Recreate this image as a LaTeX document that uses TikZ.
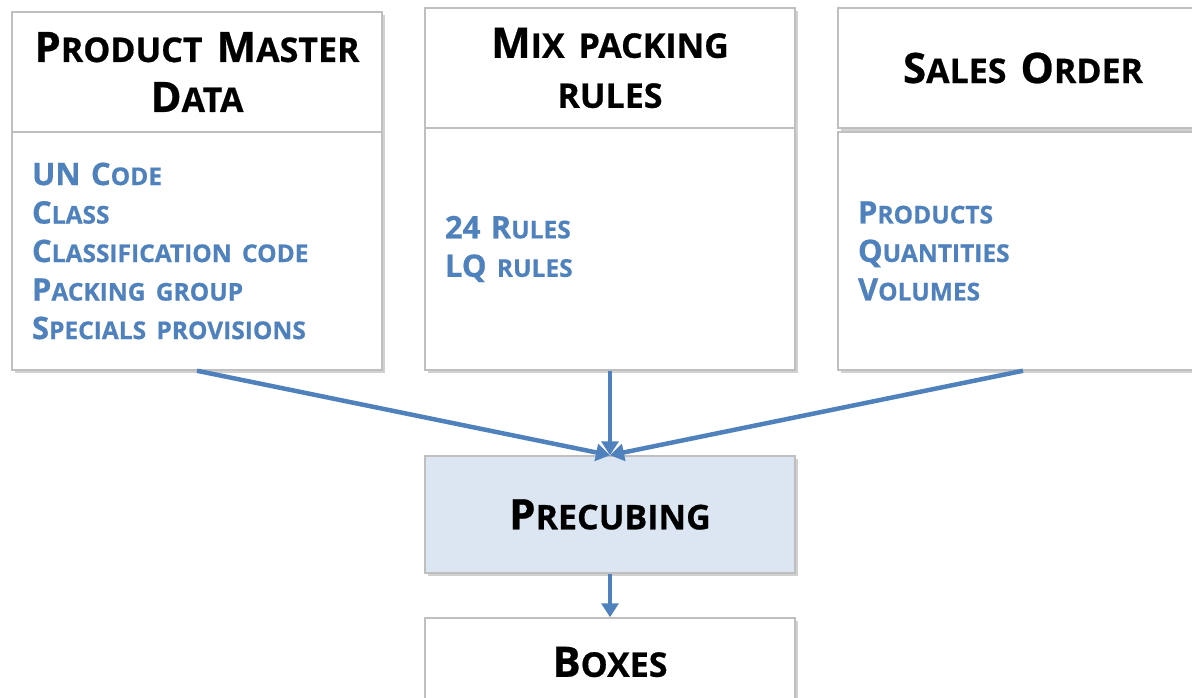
\documentclass[tikz,border=0pt]{standalone}
\usepackage{fontspec}
\setmainfont{Open Sans}[BoldFeatures={FakeBold=0.6}]
\usetikzlibrary{arrows.meta,shadows}
\definecolor{acc}{HTML}{4F81BD}
\definecolor{bord}{HTML}{BFBFBF}
\definecolor{pfill}{HTML}{DCE6F2}
\newcommand\hfont{\fontsize{42}{50}\selectfont\bfseries}
\newcommand\bfont{\fontsize{31}{38.5}\selectfont\bfseries}
\newcommand\hsc[1]{{\fontsize{34}{50}\selectfont #1}}
\newcommand\bsc[1]{{\fontsize{24.5}{38.5}\selectfont #1}}
\tikzset{
  shad/.style={drop shadow={shadow xshift=3pt, shadow yshift=-3pt, opacity=0.3, fill=black!60}},
  hdr/.style={draw=bord, line width=1.5pt, fill=white, shad, minimum height=120pt,
    text width=360pt, inner xsep=5pt, inner ysep=0pt, align=center, font=\hfont},
  bdy/.style={draw=bord, line width=1.5pt, fill=white, shad, text width=330pt,
    inner xsep=20pt, inner ysep=0pt, align=left, font=\bfont, text=acc},
  flow/.style={draw=acc, line width=4.5pt, -{Triangle[width=17pt,length=14pt]}}
}
\begin{document}
\begin{tikzpicture}[x=1pt,y=-1pt]
\useasboundingbox (0,0) rectangle (1192,698);
\clip (0,0) rectangle (1192,698);
% headers
\node[hdr] (pmd-h) at (197,72) {P\hsc{RODUCT} M\hsc{ASTER}\\ D\hsc{ATA}};
\node[hdr] (mix-h) at (610,68) {M\hsc{IX PACKING}\\ \hsc{RULES}};
\node[hdr] (so-h) at (1023,68) {S\hsc{ALES} O\hsc{RDER}};
% bodies
\node[bdy, minimum height=238pt] (pmd-b) at (197,251) {UN C\bsc{ODE}\\ C\bsc{LASS}\\ C\bsc{LASSIFICATION CODE}\\ P\bsc{ACKING GROUP}\\ S\bsc{PECIALS PROVISIONS}};
\node[bdy, minimum height=242pt] (mix-b) at (610,249) {24 R\bsc{ULES}\\ LQ \bsc{RULES}};
\node[bdy, minimum height=238pt] (so-b) at (1023,251) {P\bsc{RODUCTS}\\ Q\bsc{UANTITIES}\\ V\bsc{OLUMES}};
% process
\node[hdr, fill=pfill, minimum height=117pt] (prec) at (610,514.5) {P\hsc{RECUBING}};
\node[hdr, minimum height=88pt] (boxes) at (610,662) {B\hsc{OXES}};
% connectors
\draw[flow] (pmd-b.south) -- (prec.north);
\draw[flow] (mix-b.south) -- (prec.north);
\draw[flow] (so-b.south) -- (prec.north);
\draw[flow] (prec.south) -- (boxes.north);
\end{tikzpicture}
\end{document}
